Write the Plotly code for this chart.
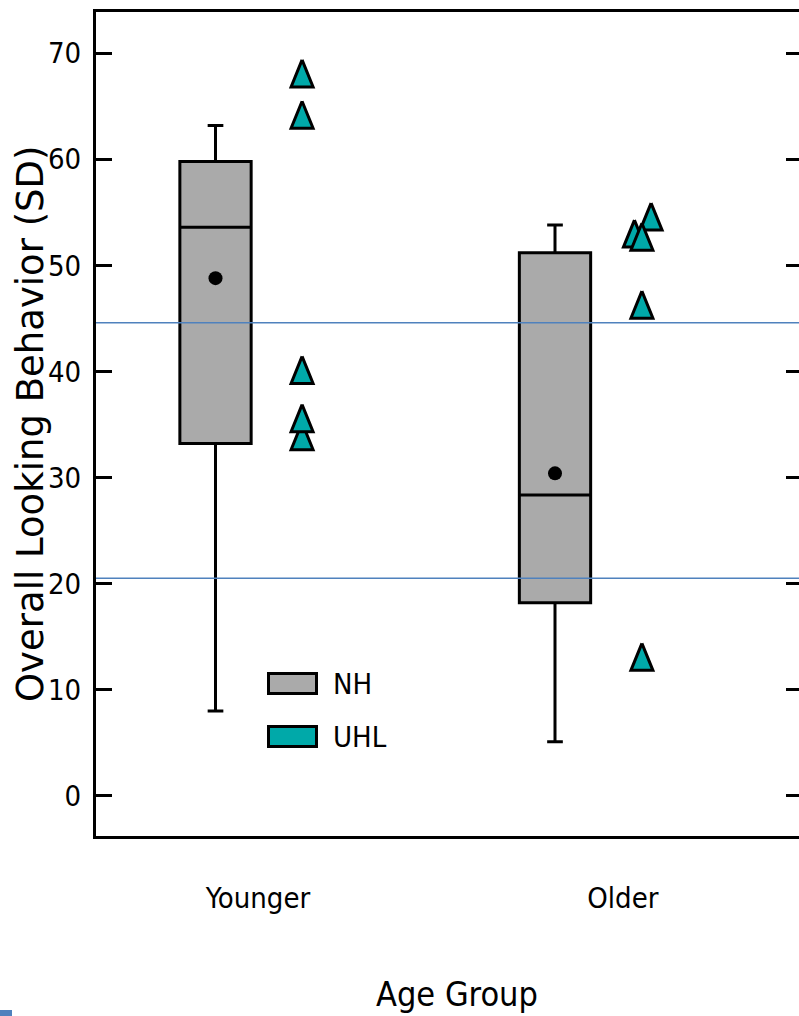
import plotly.graph_objects as go

# ---------------- data ----------------
groups = ["Younger", "Older"]
nh_pos = [1.0, 2.0]
group_tick_pos = [1.125, 2.2]

nh_lowerfence = [8.0, 5.1]
nh_q1 = [33.2, 18.2]
nh_median = [53.6, 28.35]
nh_q3 = [59.8, 51.2]
nh_upperfence = [63.2, 53.8]
nh_mean = [48.8, 30.4]

uhl_x = [1.255, 1.255, 1.255, 1.255, 1.255, 2.283, 2.234, 2.256, 2.256, 2.256]
uhl_y = [68.1, 64.2, 40.15, 33.9, 35.6, 54.6, 53.0, 52.7, 46.3, 13.1]

ref_lines = [44.6, 20.5]
y_ticks = [0, 10, 20, 30, 40, 50, 60, 70]

# ---------------- layout constants ----------------
W, H = 799, 1016
ML, MR, MT, MB = 96, 0, 12, 180
PW, PH = W - ML - MR, H - MT - MB
x_range = [0.648, 2.7187]
y_range = [-3.79, 73.89]

GRAY = "#aaaaaa"
TEAL = "#00a9a9"
BLUE = "#4f81bd"
NARROW = "DejaVu Sans Condensed, Liberation Sans Narrow, sans-serif"

xpx = PW / (x_range[1] - x_range[0])
ypx = PH / (y_range[1] - y_range[0])


def px_x(p):
    return (p - ML) / PW


def px_y(p):
    return (MT + PH - p) / PH


fig = go.Figure()

# NH boxes
fig.add_trace(go.Box(
    x=nh_pos, q1=nh_q1, median=nh_median, q3=nh_q3,
    lowerfence=nh_lowerfence, upperfence=nh_upperfence,
    width=0.21, whiskerwidth=0.22, boxpoints=False,
    fillcolor=GRAY, line=dict(color="black", width=3),
    name="NH", showlegend=False, hoverinfo="skip",
))

# means
fig.add_trace(go.Scatter(
    x=nh_pos, y=nh_mean, mode="markers",
    marker=dict(symbol="circle", size=14, color="black"),
    showlegend=False, hoverinfo="skip",
))

# UHL triangles (tall narrow triangles drawn in data space)
tw = 22 / xpx
th = 27 / ypx
for xv, yv in zip(uhl_x, uhl_y):
    fig.add_trace(go.Scatter(
        x=[xv, xv + tw / 2, xv - tw / 2, xv],
        y=[yv + th / 2, yv - th / 2, yv - th / 2, yv + th / 2],
        mode="lines", fill="toself", fillcolor=TEAL,
        line=dict(color="black", width=3),
        showlegend=False, hoverinfo="skip",
    ))

# dummy for right axis
fig.add_trace(go.Scatter(x=[None], y=[None], yaxis="y2", showlegend=False))

shapes = []
for v in ref_lines:
    shapes.append(dict(type="line", xref="paper", yref="y", x0=0, x1=1, y0=v, y1=v,
                       line=dict(color=BLUE, width=1.5), layer="above"))

# legend swatches
leg_items = [("NH", GRAY, 683.5), ("UHL", TEAL, 736.5)]
annotations = []
for label, col, cy in leg_items:
    shapes.append(dict(type="rect", xref="paper", yref="paper",
                       x0=px_x(268.5), x1=px_x(316.5), y0=px_y(cy + 10), y1=px_y(cy - 10),
                       fillcolor=col, line=dict(color="black", width=3)))
    annotations.append(dict(text=label, xref="paper", yref="paper", x=px_x(331), y=px_y(cy),
                            xanchor="left", yanchor="middle", showarrow=False,
                            font=dict(family=NARROW, size=29, color="black")))

# small blue mark in bottom-left corner
shapes.append(dict(type="rect", xref="paper", yref="paper",
                   x0=px_x(0), x1=px_x(12), y0=px_y(1016), y1=px_y(1010),
                   fillcolor=BLUE, line=dict(width=0)))

# axis titles
annotations.append(dict(text="Age Group", xref="paper", yref="paper",
                        x=px_x(457), y=px_y(994), xanchor="center", yanchor="middle",
                        showarrow=False, font=dict(family=NARROW, size=34, color="black")))
annotations.append(dict(text="Overall Looking Behavior (SD)", xref="paper", yref="paper",
                        x=px_x(30), y=px_y(424), xanchor="center", yanchor="middle",
                        textangle=-90, showarrow=False,
                        font=dict(family="DejaVu Sans", size=37, color="black")))

fig.update_layout(
    width=W, height=H,
    margin=dict(l=ML, r=MR, t=MT, b=MB),
    paper_bgcolor="white", plot_bgcolor="white",
    showlegend=False,
    xaxis=dict(
        range=x_range, showgrid=False, zeroline=False,
        showline=True, linecolor="black", linewidth=3, mirror=True,
        tickvals=group_tick_pos, ticktext=groups, ticks="",
        ticklabelstandoff=34,
        tickfont=dict(family=NARROW, size=29, color="black"),
    ),
    yaxis=dict(
        range=y_range, showgrid=False, zeroline=False,
        showline=True, linecolor="black", linewidth=3,
        tickvals=y_ticks, ticks="inside", ticklen=16, tickwidth=3, tickcolor="black",
        ticklabelstandoff=6,
        tickfont=dict(family=NARROW, size=29, color="black"),
    ),
    yaxis2=dict(
        overlaying="y", side="right", anchor="x", range=y_range,
        showgrid=False, zeroline=False, showline=False,
        tickvals=y_ticks, ticks="inside", ticklen=13, tickwidth=3, tickcolor="black",
        showticklabels=False,
    ),
    shapes=shapes,
    annotations=annotations,
)

fig.write_html("out.html")
